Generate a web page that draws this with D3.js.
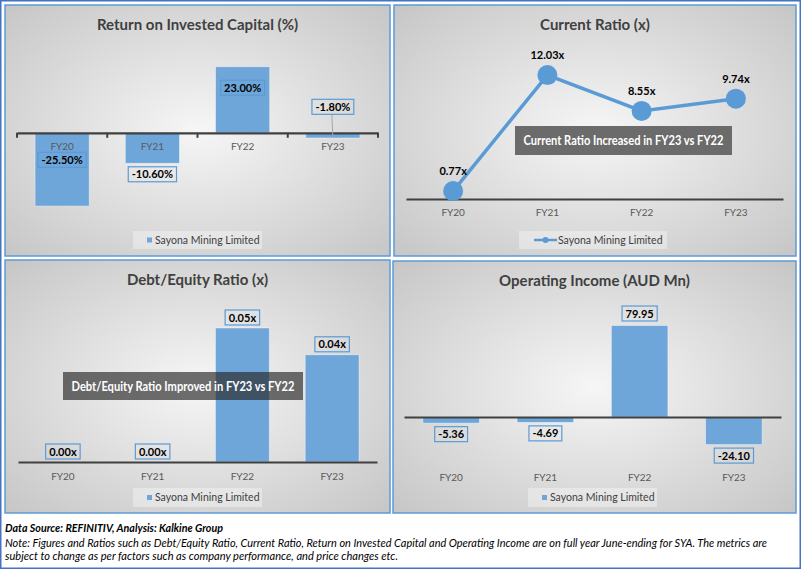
<!DOCTYPE html>
<html>
<head>
<meta charset="utf-8">
<script src="https://cdn.jsdelivr.net/npm/d3@7"></script>
<style>
    body { margin: 0; background: #ffffff; }
    svg { display: block; }
    text { font-family: Lato, "Open Sans", sans-serif; }
</style>
</head>
<body>
<svg id="vis" width="801" height="569"></svg>
<script>
/**
 * Data
 */
var years = ["FY20", "FY21", "FY22", "FY23"];
var roicValues = [-25.50, -10.60, 23.00, -1.80];
var currentRatioValues = [0.77, 12.03, 8.55, 9.74];
var debtEquityValues = [0.00, 0.00, 0.05, 0.04];
var opIncomeValues = [-5.36, -4.69, 79.95, -24.10];
var seriesName = "Sayona Mining Limited";

var BAR_COLOR = "#6fa6d9";
var LINE_COLOR = "#5b9bd5";
var TEXT_DARK = "#404040";

var svg = d3.select("#vis");

// panel background gradient
var defs = svg.append("defs");
var grad = defs.append("radialGradient").attr("id", "panelBg")
    .attr("cx", "50%").attr("cy", "50%").attr("r", "75%");
grad.append("stop").attr("offset", "0%").attr("stop-color", "#f6f6f6");
grad.append("stop").attr("offset", "100%").attr("stop-color", "#c3c3c3");

// outer frame
svg.append("rect")
    .attr("x", 0.75).attr("y", 0.75).attr("width", 799.5).attr("height", 567.5)
    .attr("fill", "#ffffff").attr("stroke", "#4472c4").attr("stroke-width", 1.5);

function drawPanel(p){
    var g = svg.append("g");
    g.append("rect")
        .attr("x", p.x).attr("y", p.y).attr("width", p.w).attr("height", p.h)
        .attr("fill", "url(#panelBg)")
        .attr("stroke", "#5b9bd5").attr("stroke-width", 1.5);
    g.append("text")
        .attr("x", p.x + p.w / 2).attr("y", p.y + 25)
        .attr("text-anchor", "middle")
        .style("font-size", "15px").style("font-weight", "bold")
        .style("fill", TEXT_DARK)
        .text(p.title);
    return g;
}

function drawLegend(g, box, isLine){
    g.append("rect")
        .attr("x", box[0]).attr("y", box[1]).attr("width", box[2]).attr("height", box[3])
        .attr("fill", "#ffffff").attr("opacity", 0.35);
    var cy = box[1] + box[3] / 2;
    var tx;
    if(isLine){
        g.append("line")
            .attr("x1", box[0] + 15).attr("x2", box[0] + 38)
            .attr("y1", cy).attr("y2", cy)
            .attr("stroke", LINE_COLOR).attr("stroke-width", 2.5);
        g.append("circle")
            .attr("cx", box[0] + 26.5).attr("cy", cy).attr("r", 3)
            .attr("fill", LINE_COLOR);
        tx = box[0] + 39;
    } else {
        g.append("rect")
            .attr("x", box[0] + 14).attr("y", cy - 2.5).attr("width", 5).attr("height", 5)
            .attr("fill", BAR_COLOR);
        tx = box[0] + 22;
    }
    g.append("text")
        .attr("x", tx).attr("y", cy + 3.5)
        .style("font-size", "10.5px").style("fill", TEXT_DARK)
        .text(seriesName);
}

function drawLabelBox(g, cx, cy, txt){
    var lg = g.append("g");
    var t = lg.append("text")
        .attr("x", cx).attr("y", cy + 4)
        .attr("text-anchor", "middle")
        .style("font-size", "11px").style("font-weight", "bold")
        .style("fill", "#000000")
        .text(txt);
    var w = t.node().getComputedTextLength() + 7;
    lg.insert("rect", "text")
        .attr("x", cx - w / 2).attr("y", cy - 7.5).attr("width", w).attr("height", 15)
        .attr("fill", "none").attr("stroke", "#5b9bd5").attr("stroke-width", 1.2);
}

function drawNote(g, note){
    var box = note.box;
    g.append("rect")
        .attr("x", box[0]).attr("y", box[1]).attr("width", box[2]).attr("height", box[3])
        .attr("fill", note.fill);
    g.append("text")
        .attr("x", box[0] + box[2] / 2).attr("y", box[1] + box[3] / 2 + 4.5)
        .attr("text-anchor", "middle")
        .attr("textLength", note.textWidth).attr("lengthAdjust", "spacingAndGlyphs")
        .style("font-size", "13px").style("font-weight", "bold")
        .style("fill", "#ffffff")
        .text(note.text);
}

/**
 * Bar panel: bars, axis line, category labels, data labels
 */
function drawBarPanel(p){
    var g = drawPanel(p);
    var x = d3.scaleBand().domain(years).range(p.xRange).paddingInner(0.4).paddingOuter(0.2);
    var y = d3.scaleLinear().domain(p.yDomain).range(p.yRange);
    var data = years.map(function(d, i){ return {year: d, value: p.values[i]}; });

    g.selectAll("rect.bar")
        .data(data)
        .enter()
        .append("rect")
        .attr("class", "bar")
        .attr("x", function(d){ return x(d.year); })
        .attr("width", x.bandwidth())
        .attr("y", function(d){ return Math.min(y(d.value), y(0)); })
        .attr("height", function(d){ return Math.abs(y(d.value) - y(0)); })
        .attr("fill", BAR_COLOR)
        .attr("stroke", "#ffffff").attr("stroke-opacity", 0.5).attr("stroke-width", 0.8);

    // axis line with optional category ticks
    var axis = d3.axisBottom(x).tickSize(0).tickFormat("");
    var ag = g.append("g").attr("transform", "translate(0," + y(0) + ")").call(axis);
    ag.select(".domain").attr("stroke", TEXT_DARK).attr("stroke-width", 2.2);
    if(p.ticks){
        var bounds = years.map(function(d){ return x(d) - x.step() * x.paddingInner() / 2; });
        bounds[0] = p.xRange[0];
        bounds.push(p.xRange[1]);
        ag.selectAll("line.tk")
            .data(bounds)
            .enter()
            .append("line")
            .attr("class", "tk")
            .attr("x1", function(d){ return d; }).attr("x2", function(d){ return d; })
            .attr("y1", 0).attr("y2", 5)
            .attr("stroke", TEXT_DARK).attr("stroke-width", 2);
    }

    g.selectAll("text.cat")
        .data(years)
        .enter()
        .append("text")
        .attr("class", "cat")
        .attr("x", function(d){ return x(d) + x.bandwidth() / 2; })
        .attr("y", p.catY)
        .attr("text-anchor", "middle")
        .style("font-size", "10px").style("fill", "#595959")
        .text(function(d){ return d; });

    if(p.after){ p.after(g, x, y); }

    // data labels, positioned relative to bar end or axis
    data.forEach(function(d, i){
        var cx = x(d.year) + x.bandwidth() / 2;
        var cy = p.labelY(d, i, y);
        drawLabelBox(g, cx, cy, p.fmt(d.value));
    });

    drawLegend(g, p.legend, false);
    if(p.note){ drawNote(g, p.note); }
}

/**
 * Line panel: current ratio
 */
function drawLinePanel(p){
    var g = drawPanel(p);
    var x = d3.scalePoint().domain(years).range(p.xRange).padding(0.5);
    var y = d3.scaleLinear().domain(p.yDomain).range(p.yRange);
    var data = years.map(function(d, i){ return {year: d, value: p.values[i]}; });

    var axis = d3.axisBottom(x).tickSize(0).tickFormat("");
    var ag = g.append("g").attr("transform", "translate(0," + y(0) + ")").call(axis);
    ag.select(".domain").attr("stroke", TEXT_DARK).attr("stroke-width", 2.2);

    g.selectAll("text.cat")
        .data(years)
        .enter()
        .append("text")
        .attr("class", "cat")
        .attr("x", function(d){ return x(d); })
        .attr("y", p.catY)
        .attr("text-anchor", "middle")
        .style("font-size", "10px").style("fill", "#595959")
        .text(function(d){ return d; });

    var line = d3.line()
        .x(function(d){ return x(d.year); })
        .y(function(d){ return y(d.value); });
    g.append("path")
        .datum(data)
        .attr("d", line)
        .attr("fill", "none")
        .attr("stroke", LINE_COLOR).attr("stroke-width", 3.5);

    g.selectAll("circle.pt")
        .data(data)
        .enter()
        .append("circle")
        .attr("class", "pt")
        .attr("cx", function(d){ return x(d.year); })
        .attr("cy", function(d){ return y(d.value); })
        .attr("r", 10)
        .attr("fill", LINE_COLOR);

    g.selectAll("text.val")
        .data(data)
        .enter()
        .append("text")
        .attr("class", "val")
        .attr("x", function(d){ return x(d.year); })
        .attr("y", function(d){ return y(d.value) - 16; })
        .attr("text-anchor", "middle")
        .style("font-size", "11px").style("font-weight", "bold")
        .style("fill", "#000000")
        .text(function(d){ return d.value.toFixed(2) + "x"; });

    drawLegend(g, p.legend, true);
    drawNote(g, p.note);
}

// Return on Invested Capital
drawBarPanel({
    x: 5, y: 5, w: 385, h: 251,
    title: "Return on Invested Capital (%)",
    values: roicValues,
    fmt: function(v){ return v.toFixed(2) + "%"; },
    xRange: [17, 378],
    yDomain: [-30, 25], yRange: [219, 61],
    ticks: true,
    catY: 150,
    labelY: function(d, i, y){
        if(i === 0) return y(0) + 27;
        if(i === 1) return y(d.value) + 11;
        if(i === 2) return y(d.value) + 21;
        return y(0) - 26;
    },
    after: function(g, x, y){
        var cx = x("FY23") + x.bandwidth() / 2;
        g.append("line")
            .attr("x1", cx - 1).attr("x2", cx)
            .attr("y1", y(0) - 18).attr("y2", y(roicValues[3]))
            .attr("stroke", "#a6a6a6").attr("stroke-width", 1);
    },
    legend: [133, 231, 129, 18]
});

// Current Ratio
drawLinePanel({
    x: 394, y: 5, w: 402, h: 251,
    title: "Current Ratio (x)",
    values: currentRatioValues,
    xRange: [406, 783],
    yDomain: [0, 14], yRange: [199, 54.8],
    catY: 216,
    legend: [519, 231, 148, 18],
    note: {box: [515, 126, 217, 29], text: "Current Ratio Increased in FY23 vs FY22", fill: "#6b6b6b", textWidth: 200}
});

// Debt/Equity Ratio
drawBarPanel({
    x: 5, y: 260, w: 385, h: 253,
    title: "Debt/Equity Ratio (x)",
    values: debtEquityValues,
    fmt: function(v){ return v.toFixed(2) + "x"; },
    xRange: [18, 377],
    yDomain: [0, 0.06], yRange: [462, 301.2],
    ticks: false,
    catY: 480,
    labelY: function(d, i, y){ return y(d.value) - 10.5; },
    legend: [133, 488, 129, 19],
    note: {box: [63, 372, 240, 28], text: "Debt/Equity Ratio Improved in FY23 vs FY22", fill: "rgba(38,38,38,0.66)", textWidth: 223}
});

// Operating Income
drawBarPanel({
    x: 393, y: 261, w: 403, h: 252,
    title: "Operating Income (AUD Mn)",
    values: opIncomeValues,
    fmt: function(v){ return v.toFixed(2); },
    xRange: [404, 781],
    yDomain: [-30, 90], yRange: [451.35, 314],
    ticks: false,
    catY: 481,
    labelY: function(d, i, y){ return d.value < 0 ? y(d.value) + 11 : y(d.value) - 12; },
    legend: [528, 488, 129, 19]
});

// footer
var footer = svg.append("g").style("font-style", "italic").style("fill", "#000000");
footer.append("text")
    .attr("x", 5).attr("y", 532)
    .attr("textLength", 218).attr("lengthAdjust", "spacingAndGlyphs")
    .style("font-size", "11px").style("font-weight", "bold")
    .text("Data Source: REFINITIV, Analysis: Kalkine Group");
footer.append("text")
    .attr("x", 5).attr("y", 547)
    .attr("textLength", 762).attr("lengthAdjust", "spacingAndGlyphs")
    .style("font-size", "10.5px")
    .text("Note: Figures and Ratios such as Debt/Equity Ratio, Current Ratio, Return on Invested Capital and Operating Income are on full year June-ending for SYA. The metrics are");
footer.append("text")
    .attr("x", 5).attr("y", 560)
    .attr("textLength", 393).attr("lengthAdjust", "spacingAndGlyphs")
    .style("font-size", "10.5px")
    .text("subject to change as per factors such as company performance, and price changes etc.");
</script>
</body>
</html>
